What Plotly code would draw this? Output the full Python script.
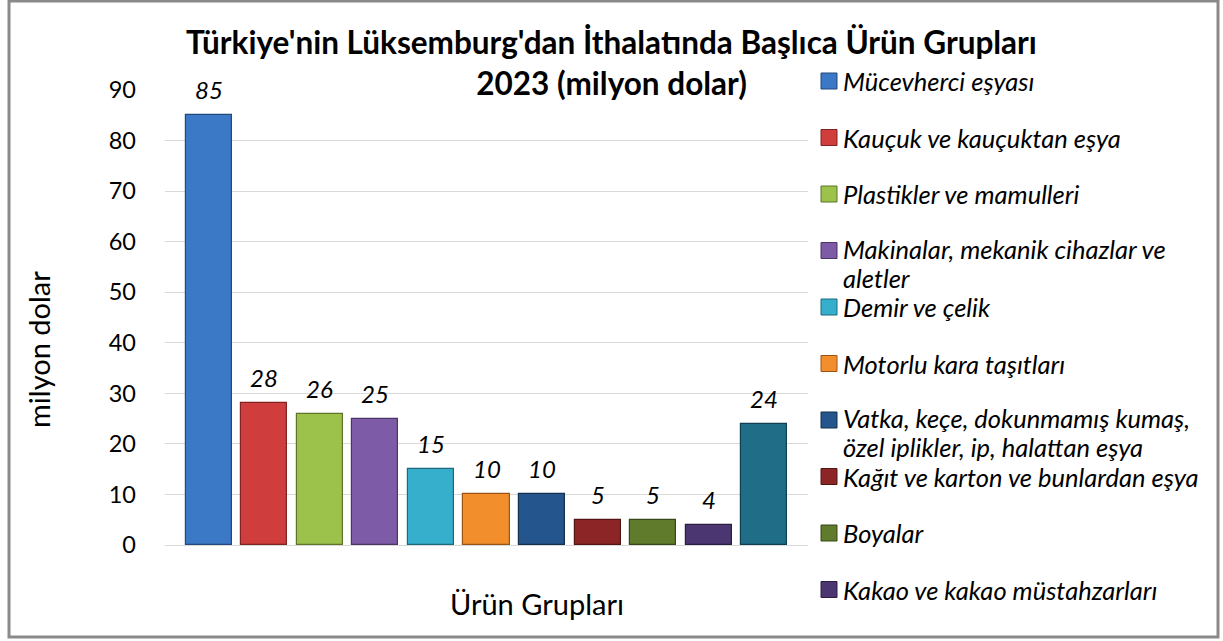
import plotly.graph_objects as go

# ---- data ----
categories = [
    "Mücevherci eşyası",
    "Kauçuk ve kauçuktan eşya",
    "Plastikler ve mamulleri",
    "Makinalar, mekanik cihazlar ve aletler",
    "Demir ve çelik",
    "Motorlu kara taşıtları",
    "Vatka, keçe, dokunmamış kumaş, özel iplikler, ip, halattan eşya",
    "Kağıt ve karton ve bunlardan eşya",
    "Boyalar",
    "Kakao ve kakao müstahzarları",
    "Diğer",
]
values = [85, 28, 26, 25, 15, 10, 10, 5, 5, 4, 24]
legend_lines = [
    ["Mücevherci eşyası"],
    ["Kauçuk ve kauçuktan eşya"],
    ["Plastikler ve mamulleri"],
    ["Makinalar, mekanik cihazlar ve", "aletler"],
    ["Demir ve çelik"],
    ["Motorlu kara taşıtları"],
    ["Vatka, keçe, dokunmamış kumaş,", "özel iplikler, ip, halattan eşya"],
    ["Kağıt ve karton ve bunlardan eşya"],
    ["Boyalar"],
    ["Kakao ve kakao müstahzarları"],
]
y_ticks = [0, 10, 20, 30, 40, 50, 60, 70, 80, 90]
title_text = "Türkiye'nin Lüksemburg'dan İthalatında Başlıca Ürün Grupları<br>2023 (milyon dolar)"
x_title = "Ürün Grupları"
y_title = "milyon dolar"

colors = ["#3B78C6", "#CF3E3C", "#9CC24B", "#7D5BA6", "#35AFCB", "#F28F2C",
          "#24558C", "#8C2626", "#5F7B2B", "#4B3672", "#1F6D87"]
edges = ["#23497A", "#7E2322", "#5C7529", "#4A3564", "#1D6A7C", "#9A5514",
         "#13304F", "#531414", "#374818", "#2A1E41", "#123F4F"]

# ---- pixel geometry helpers ----
W, H = 1223, 641
PL, PR, PT, PB = 165, 808, 90, 545
pw, ph = PR - PL, PB - PT


def px(x):
    return (x - PL) / pw


def py(y):
    return (PB - y) / ph


FONT = "Lato"

fig = go.Figure()
for i, (c, v) in enumerate(zip(categories, values)):
    fig.add_trace(go.Bar(
        x=[c], y=[v], name=c,
        marker=dict(color=colors[i], line=dict(color=edges[i], width=1.2)),
        width=0.83, showlegend=False,
        hovertemplate="%{x}: %{y}<extra></extra>",
    ))

annotations = []
# data labels
for c, v in zip(categories, values):
    annotations.append(dict(
        x=c, y=v, xref="x", yref="y", text=str(v), showarrow=False,
        yanchor="bottom", yshift=9,
        font=dict(family=FONT, size=24, color="#000000", style="italic"),
    ))

shapes = []
# manual legend
slot0, slot_step, line_step = 81, 56.5, 29
for i, lines in enumerate(legend_lines):
    cy = slot0 + slot_step * i
    shapes.append(dict(
        type="rect", xref="paper", yref="paper",
        x0=px(821), x1=px(837), y0=py(cy + 8), y1=py(cy - 8),
        fillcolor=colors[i], line=dict(color=edges[i], width=1),
    ))
    top = cy - (2 if len(lines) > 1 else 0)
    for k, t in enumerate(lines):
        annotations.append(dict(
            x=px(841), y=py(top + line_step * k), xref="paper", yref="paper",
            text=t, showarrow=False, xanchor="left", yanchor="middle",
            font=dict(family=FONT, size=25.5, color="#000000", style="italic"),
        ))

# axis titles (placed as in the reference)
annotations.append(dict(
    x=px(537), y=py(603), xref="paper", yref="paper", text=x_title,
    showarrow=False, xanchor="center", yanchor="middle",
    font=dict(family=FONT, size=29, color="#000000"),
))
annotations.append(dict(
    x=px(38), y=py(350), xref="paper", yref="paper", text=y_title,
    showarrow=False, xanchor="center", yanchor="middle", textangle=-90,
    font=dict(family=FONT, size=29, color="#000000"),
))

# outer border
shapes.append(dict(
    type="rect", xref="paper", yref="paper",
    x0=px(9), x1=px(1218), y0=py(637), y1=py(1),
    line=dict(color="#8A8A8A", width=3), fillcolor="rgba(0,0,0,0)", layer="above",
))

fig.update_layout(
    width=W, height=H,
    margin=dict(l=PL, r=W - PR, t=PT, b=H - PB, pad=0),
    paper_bgcolor="white", plot_bgcolor="white",
    title=dict(
        text=title_text,
        x=0.5, xanchor="center", xref="container",
        y=1 - 54 / H, yanchor="top", yref="container",
        font=dict(family=FONT, size=31.5, color="#000000", weight="bold"),
    ),
    bargap=0,
    xaxis=dict(
        type="category", range=[-0.79, 10.79], showticklabels=False,
        showgrid=False, zeroline=False, showline=False, ticks="",
    ),
    yaxis=dict(
        range=[0, 90], tickvals=y_ticks, ticktext=[str(t) for t in y_ticks],
        showgrid=True, gridcolor="#D9D9D9", gridwidth=1,
        zeroline=True, zerolinecolor="#D9D9D9", zerolinewidth=1,
        showline=False, ticks="", ticklabelstandoff=28,
        tickfont=dict(family=FONT, size=23.5, color="#000000"),
    ),
    annotations=annotations,
    shapes=shapes,
)

fig.write_html(
    "out.html",
    config={"displayModeBar": False},
    post_script="document.body.style.margin='0';document.body.style.overflow='hidden';",
)
